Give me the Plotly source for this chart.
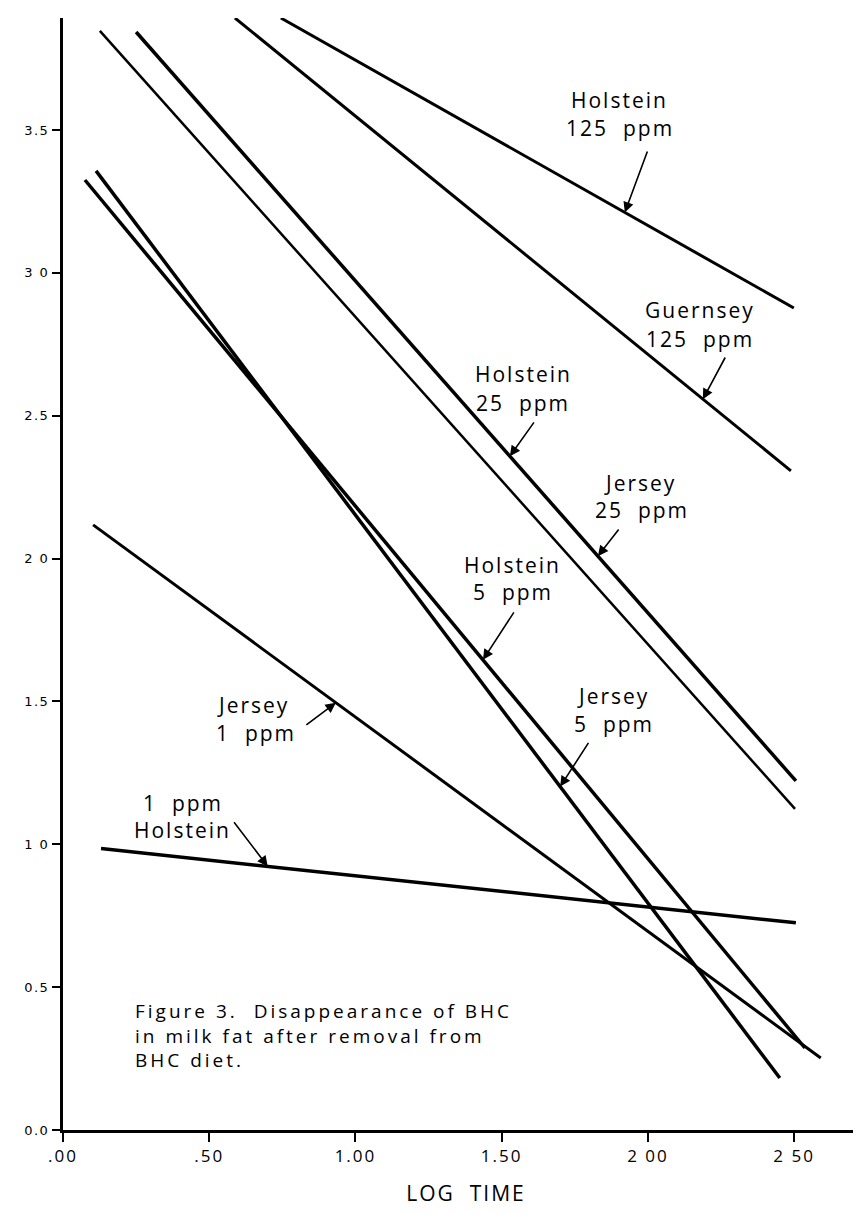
import plotly.graph_objects as go

# ---- data (log ppm vs log time) ----
series_names = ["Holstein 125 ppm", "Guernsey 125 ppm", "Holstein 25 ppm", "Jersey 25 ppm",
                "Holstein 5 ppm", "Jersey 5 ppm", "Jersey 1 ppm", "Holstein 1 ppm"]
x_start = [0.745, 0.588, 0.250, 0.126, 0.075, 0.113, 0.103, 0.130]
y_start = [3.892, 3.892, 3.843, 3.847, 3.325, 3.357, 2.118, 0.985]
x_end = [2.499, 2.489, 2.506, 2.503, 2.537, 2.451, 2.591, 2.506]
y_end = [2.877, 2.307, 1.222, 1.124, 0.287, 0.182, 0.252, 0.725]

x_tickvals = [0.0, 0.5, 1.0, 1.5, 2.0, 2.5]
x_ticktext = [".00", ".50", "1.00", "1.50", "2 00", "2 50"]
y_tickvals = [0.0, 0.5, 1.0, 1.5, 2.0, 2.5, 3.0, 3.5]
y_ticktext = ["0.0", "0.5", "1 0", "1.5", "2 0", "2.5", "3 0", "3.5"]

caption_lines = ["Figure 3.  Disappearance of BHC", "in milk fat after removal from", "BHC diet."]

# ---- styles ----
line_widths = [3, 3, 3.5, 2.5, 3.5, 3.5, 3, 3.5]
FONT = "Open Sans"
LBL = 21

fig = go.Figure()
for i, name in enumerate(series_names):
    fig.add_trace(go.Scatter(
        x=[x_start[i], x_end[i]], y=[y_start[i], y_end[i]],
        mode="lines", name=name, showlegend=False,
        line=dict(color="black", width=line_widths[i]),
    ))


def on_line(i, x):
    t = (x - x_start[i]) / (x_end[i] - x_start[i])
    return y_start[i] + t * (y_end[i] - y_start[i])


# arrows: (series index, tip x, tail x, tail y)
arrows = [
    (0, 1.921, 2.000, 3.430),
    (1, 2.188, 2.267, 2.709),
    (2, 1.528, 1.614, 2.482),
    (2, 1.829, 1.904, 2.107),
    (4, 1.436, 1.545, 1.817),
    (5, 1.700, 1.800, 1.360),
    (6, 0.933, 0.827, 1.414),
    (7, 0.700, 0.581, 1.082),
]
for idx, tx, ax, ay in arrows:
    fig.add_annotation(x=tx, y=on_line(idx, tx), ax=ax, ay=ay, xref="x", yref="y",
                       axref="x", ayref="y", text="", showarrow=True,
                       arrowhead=2, arrowsize=1.3, arrowwidth=1.6, arrowcolor="black")

labels = [
    ("Holstein", 1.904, 3.605), ("125  ppm", 1.904, 3.507),
    ("Guernsey", 2.178, 2.870), ("125  ppm", 2.178, 2.769),
    ("Holstein", 1.573, 2.646), ("25  ppm", 1.573, 2.545),
    ("Jersey", 1.976, 2.265), ("25  ppm", 1.980, 2.170),
    ("Holstein", 1.538, 1.978), ("5  ppm", 1.538, 1.883),
    ("Jersey", 1.884, 1.519), ("5  ppm", 1.884, 1.421),
    ("Jersey", 0.653, 1.488), ("1  ppm", 0.660, 1.390),
    ("1  ppm", 0.410, 1.145), ("Holstein", 0.410, 1.050),
]
for txt, lx, ly in labels:
    fig.add_annotation(x=lx, y=ly, xref="x", yref="y", text=txt, showarrow=False,
                       font=dict(family=FONT, size=LBL, color="black"))

fig.add_annotation(x=0.239, y=0.469, xref="x", yref="y", xanchor="left", yanchor="top",
                   align="left", showarrow=False, text="<br>".join(caption_lines),
                   font=dict(family=FONT, size=19, color="black"))

# y axis title "LOG   PPM"
fig.add_annotation(x=-0.075, y=1.30, xref="x", yref="y", text="LOG", textangle=-90,
                   showarrow=False, font=dict(family=FONT, size=LBL, color="black"))
fig.add_annotation(x=-0.075, y=1.74, xref="x", yref="y", text="PPM", textangle=-90,
                   showarrow=False, font=dict(family=FONT, size=18, color="black"))

fig.update_layout(
    width=861, height=1214,
    margin=dict(l=55, r=0, t=10, b=92),
    paper_bgcolor="white", plot_bgcolor="white",
    xaxis=dict(range=[0, 2.756], tickvals=x_tickvals, ticktext=x_ticktext,
               showgrid=False, zeroline=False, showline=True, linecolor="black", linewidth=3,
               ticks="outside", ticklen=9, tickwidth=2, tickcolor="black",
               tickfont=dict(family=FONT, size=17, color="black"),
               title=dict(text="LOG  TIME", font=dict(family=FONT, size=LBL, color="black"),
                          standoff=20)),
    yaxis=dict(range=[0, 3.892], tickvals=y_tickvals, ticktext=y_ticktext,
               showgrid=False, zeroline=False, showline=True, linecolor="black", linewidth=3,
               ticks="outside", ticklen=8, tickwidth=2, tickcolor="black",
               tickfont=dict(family="DejaVu Sans", size=13, color="black")),
)

spacing_js = """
var gd = document.getElementById('{plot_id}');
function spread() {
  gd.querySelectorAll('.annotation-text').forEach(function (e) {
    var big = e.textContent.indexOf('Figure') >= 0;
    e.style.letterSpacing = big ? '3px' : '2px';
  });
  gd.querySelectorAll('.xtick text').forEach(function (e) { e.style.letterSpacing = '2px'; });
  gd.querySelectorAll('.xtitle').forEach(function (e) { e.style.letterSpacing = '2px'; });
  gd.querySelectorAll('.ytick text').forEach(function (e) { e.style.letterSpacing = '1.5px'; });
}
spread();
gd.on('plotly_afterplot', spread);
"""

fig.write_html("out.html", post_script=spacing_js)
